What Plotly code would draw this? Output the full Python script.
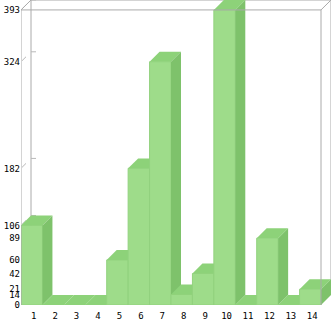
import plotly.graph_objects as go

categories = [str(i) for i in range(1, 15)]
values = [106, 0, 0, 0, 60, 182, 324, 14, 42, 393, 0, 89, 0, 21]
ytick_vals = [0, 14, 21, 42, 60, 89, 106, 182, 324, 393]

W, H = 333, 321
ML, MR, MT, MB = 21, 2, 0, 14
DEPTH_PX = 10
FRONT_COLOR = "#9edc8a"
TOP_COLOR = "#8dd279"
SIDE_COLOR = "#7ec26b"
FRAME = "#aaaaaa"

n = len(values)
ymax = max(values)
plot_w = W - ML - MR
plot_h = H - MT - MB
x_scale = (plot_w - DEPTH_PX) / n          # px per category unit
y_scale = (plot_h - DEPTH_PX) / ymax       # px per value unit
dx = DEPTH_PX / x_scale
dy = DEPTH_PX / y_scale
x0, x1 = 0.5, n + 0.5

fig = go.Figure()

def poly(xs, ys, fill, line_color=None, lw=0):
    fig.add_trace(go.Scatter(
        x=xs, y=ys, mode="lines", fill="toself", fillcolor=fill,
        line=dict(color=line_color or fill, width=lw),
        hoverinfo="skip", showlegend=False))

def lines(xs, ys, color, lw=1):
    fig.add_trace(go.Scatter(
        x=xs, y=ys, mode="lines", line=dict(color=color, width=lw),
        hoverinfo="skip", showlegend=False))

# back wall
bx, by = [], []
bx += [x0 + dx, x0 + dx, x1 + dx, x1 + dx]
by += [dy, ymax + dy, ymax + dy, dy]
lines(bx, by, FRAME)

# tick stubs (behind bars)
tx, ty = [], []
for v in ytick_vals:
    tx += [x0 + 0.1 * dx, x0 + 0.5 * dx, None, x0 + dx, x0 + dx + 0.5 * dx, None]
    ty += [v + 0.1 * dy, v + 0.5 * dy, None, v + dy, v + dy, None]
lines(tx, ty, "#b8b8b8")

# bars
for i, v in enumerate(values):
    c = i + 1
    xl, xr = c - 0.5, c + 0.5
    poly([xl, xr, xr, xl, xl], [0, 0, v, v, 0], FRONT_COLOR, "#92d27e", 1)
    poly([xl, xr, xr + dx, xl + dx, xl], [v, v, v + dy, v + dy, v], TOP_COLOR)
    poly([xr, xr + dx, xr + dx, xr, xr], [0, dy, v + dy, v, 0], SIDE_COLOR)

# front frame and diagonals
fx = [x0, x0, x1, x1, None, x0, x0 + dx, None, x1, x1 + dx]
fy = [0, ymax, ymax, 0, None, ymax, ymax + dy, None, ymax, ymax + dy]
lines(fx, fy, FRAME)

fig.update_layout(
    width=W, height=H,
    margin=dict(l=ML, r=MR, t=MT, b=MB),
    paper_bgcolor="white", plot_bgcolor="white",
    font=dict(family="DejaVu Sans Mono", size=9, color="black"),
    xaxis=dict(range=[x0, x1 + dx], tickvals=list(range(1, n + 1)),
               ticktext=categories, showgrid=False, zeroline=False,
               showline=False, ticks="", ticklabelstandoff=4,
               ticklabelshift=2, fixedrange=True),
    yaxis=dict(range=[0, ymax + dy], tickvals=ytick_vals,
               ticktext=[str(v) for v in ytick_vals], showgrid=False,
               zeroline=False, showline=False, ticks="", fixedrange=True),
)

fig.write_html("out.html")
